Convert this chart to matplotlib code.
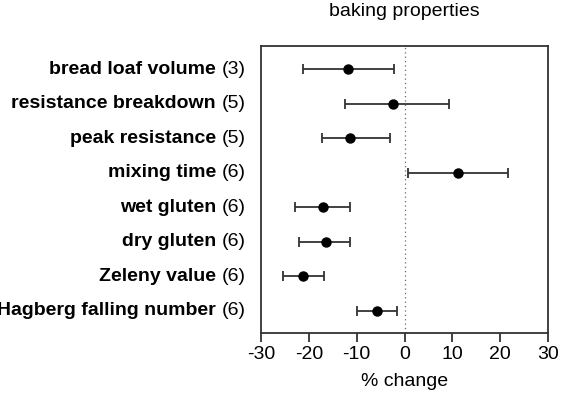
import matplotlib
matplotlib.use("Agg")
import matplotlib.pyplot as plt
import matplotlib.transforms as mtransforms
import numpy as np

plt.rcParams["font.family"] = ["Liberation Sans", "DejaVu Sans"]
plt.rcParams["axes.unicode_minus"] = False

names = ["bread loaf volume", "resistance breakdown", "peak resistance", "mixing time",
         "wet gluten", "dry gluten", "Zeleny value", "Hagberg falling number"]
counts = [3, 5, 5, 6, 6, 6, 6, 6]
change = [-11.9, -2.5, -11.4, 11.2, -17.0, -16.5, -21.2, -5.7]
lower = [-21.2, -12.5, -17.2, 0.7, -22.9, -22.1, -25.5, -9.9]
upper = [-2.3, 9.2, -3.0, 21.7, -11.5, -11.3, -16.8, -1.6]

change = np.array(change)
err = np.vstack([change - np.array(lower), np.array(upper) - change])
y = np.arange(len(names))

dark = '#333333'

fig = plt.figure(figsize=(5.65, 4.04), dpi=100)
ax = fig.add_axes([0.462, 0.176, 0.508, 0.710])

ax.axvline(0, color='#666666', lw=0.9, ls=(0, (1, 2.5)), zorder=1)
ax.errorbar(change, y, xerr=err, fmt='o', color='black', ecolor=dark,
            elinewidth=1.3, capsize=3.3, capthick=1.3, markersize=6.5, zorder=3)

ax.set_xlim(-30, 30)
ax.set_ylim(7.64, -0.665)
ax.set_xticks([-30, -20, -10, 0, 10, 20, 30])
ax.set_yticks([])
ax.tick_params(axis='x', length=6.5, width=1.3, color=dark, labelsize=14, pad=3)
for s in ax.spines.values():
    s.set_color(dark)
    s.set_linewidth(1.3)

# labels: bold name + regular count
off_n = mtransforms.offset_copy(ax.get_yaxis_transform(), fig=fig, x=-15, y=0, units='dots')
off_b = mtransforms.offset_copy(ax.get_yaxis_transform(), fig=fig, x=-45, y=0, units='dots')
for i, (nm, c) in enumerate(zip(names, counts)):
    ax.text(0, i, '(%d)' % c, transform=off_n, ha='right', va='center', fontsize=14)
    ax.text(0, i, nm, transform=off_b, ha='right', va='center', fontsize=14, fontweight='bold')

ax.set_xlabel('% change', fontsize=14, labelpad=7)
fig.text(0.716, 0.972, 'baking properties', ha='center', va='center', fontsize=14)

fig.savefig('out.png', dpi=100)
